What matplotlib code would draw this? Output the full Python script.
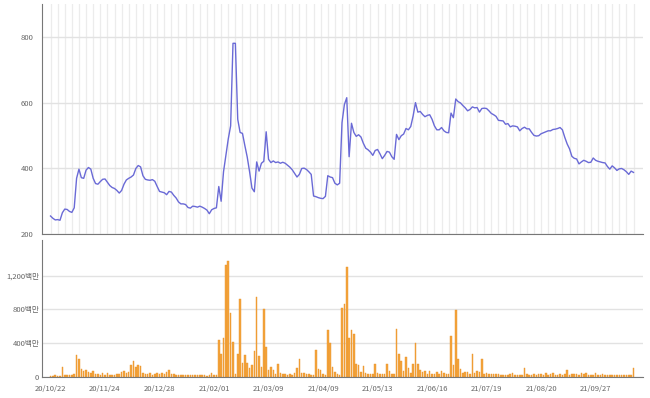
import numpy as np
import matplotlib
matplotlib.use('Agg')
import matplotlib.pyplot as plt

plt.rcParams['font.family'] = ['Noto Sans CJK KR', 'DejaVu Sans']

# 종가 (일별)
price = [255, 248, 243, 244, 242, 265, 276, 275, 269, 266,
         280, 370, 398, 372, 370, 395, 403, 398, 370, 354,
         352, 360, 367, 368, 358, 348, 342, 339, 333, 325,
         333, 352, 365, 370, 374, 380, 400, 409, 405, 378,
         367, 365, 364, 366, 361, 345, 330, 328, 326, 320,
         330, 328, 318, 310, 298, 292, 292, 290, 281, 279,
         285, 284, 282, 285, 282, 278, 273, 262, 274, 278,
         280, 345, 300, 390, 440, 490, 530, 782, 782, 550,
         510, 507, 470, 435, 390, 340, 329, 420, 392, 416,
         422, 512, 428, 418, 423, 418, 420, 416, 419, 416,
         410, 404, 396, 385, 374, 382, 400, 401, 397, 390,
         382, 316, 314, 311, 309, 308, 315, 378, 374, 372,
         355, 350, 355, 540, 595, 616, 436, 538, 510, 498,
         503, 496, 477, 462, 457, 450, 440, 455, 458, 445,
         430, 440, 452, 450, 436, 428, 504, 488, 500, 505,
         522, 518, 528, 560, 601, 572, 574, 565, 558, 562,
         564, 550, 530, 518, 518, 525, 515, 510, 509, 569,
         555, 612, 604, 600, 592, 585, 576, 580, 588, 585,
         586, 572, 583, 584, 583, 576, 568, 564, 559, 547,
         546, 545, 535, 537, 527, 530, 529, 527, 515, 522,
         526, 521, 521, 510, 501, 499, 500, 506, 509, 512,
         515, 515, 519, 520, 522, 525, 518, 495, 475, 460,
         437, 431, 429, 414, 420, 425, 422, 418, 419, 432,
         425, 422, 420, 418, 417, 406, 398, 408, 402, 394,
         399, 400, 396, 390, 382, 392, 388]

# 거래량 (백만)
vol = [15, 15, 20, 15, 12, 119, 25, 18, 20, 22,
       40, 258, 208, 100, 75, 87, 60, 53, 67, 36,
       40, 20, 48, 20, 53, 25, 20, 22, 30, 35,
       60, 71, 50, 60, 147, 195, 120, 147, 125, 53,
       40, 38, 50, 25, 30, 45, 30, 48, 40, 55,
       80, 30, 35, 25, 20, 22, 20, 25, 20, 18,
       22, 20, 18, 25, 20, 18, 15, 20, 50, 22,
       20, 444, 275, 465, 1330, 1377, 760, 415, 40, 270,
       930, 168, 257, 166, 109, 139, 309, 950, 245, 122,
       800, 356, 87, 115, 87, 35, 158, 45, 40, 30,
       22, 38, 25, 48, 107, 218, 50, 48, 30, 30,
       28, 20, 316, 100, 87, 30, 20, 562, 400, 115,
       60, 30, 20, 812, 865, 1300, 467, 562, 507, 155,
       148, 60, 125, 45, 35, 30, 35, 158, 50, 30,
       30, 32, 151, 72, 30, 30, 564, 278, 185, 72,
       235, 105, 45, 150, 406, 158, 87, 55, 71, 40,
       75, 40, 38, 55, 40, 75, 42, 40, 40, 483,
       139, 792, 218, 100, 48, 55, 55, 40, 268, 48,
       71, 55, 208, 40, 45, 40, 40, 35, 35, 30,
       25, 20, 20, 25, 30, 48, 20, 22, 28, 20,
       109, 30, 25, 28, 35, 20, 40, 30, 22, 45,
       20, 30, 48, 25, 20, 30, 22, 35, 80, 25,
       40, 35, 30, 28, 45, 35, 50, 20, 25, 22,
       48, 20, 18, 30, 22, 25, 20, 28, 22, 25,
       20, 22, 18, 20, 25, 22, 107]

date_labels = ['20/10/22', '20/11/24', '20/12/28', '21/02/01', '21/03/09', '21/04/09',
               '21/05/13', '21/06/16', '21/07/19', '21/08/20', '21/09/27']
vol_ticks = [0, 400, 800, 1200]
vol_labels = ['0', '400백만', '800백만', '1,200백만']

xp = np.arange(len(price))
xv = np.arange(len(vol))
xlim = (-3.6, 250)

fig = plt.figure(figsize=(6.5, 3.98), dpi=100)
ax1 = fig.add_axes([0.0646, 0.412, 0.9246, 0.578])
ax2 = fig.add_axes([0.0646, 0.0528, 0.9246, 0.344])

# 주가
ax1.plot(xp, price, color='#6a6ad6', lw=1.0)
ax1.set_xlim(xlim)
ax1.set_ylim(200, 902)
ax1.set_yticks([200, 400, 600, 800])
ax1.set_xticks(np.arange(0, len(price), 3))
ax1.set_xticklabels([])
ax1.grid(axis='x', color='#ececec', lw=0.9)
ax1.grid(axis='y', color='#e2e2e2', lw=1.0)
ax1.set_axisbelow(True)
ax1.tick_params(length=0, labelsize=5.5, labelcolor='#666666', pad=6)
for s in ['top', 'right']:
    ax1.spines[s].set_visible(False)
ax1.spines['left'].set_color('#777777')
ax1.spines['bottom'].set_color('#777777')

# 거래량
ax2.bar(xv, vol, width=0.65, color='#f4a43c', edgecolor='#e8922a', lw=0.3)
ax2.set_xlim(xlim)
ax2.set_ylim(0, 1623)
ax2.set_yticks(vol_ticks)
ax2.set_yticklabels(vol_labels)
ax2.set_xticks(np.arange(0, 23 * len(date_labels), 23))
ax2.set_xticklabels(date_labels)
ax2.grid(axis='y', color='#e2e2e2', lw=1.0)
ax2.set_axisbelow(True)
ax2.tick_params(length=0, labelsize=5.5, labelcolor='#666666')
ax2.tick_params(axis='y', pad=2)
ax2.tick_params(axis='x', pad=6)
for s in ['top', 'right']:
    ax2.spines[s].set_visible(False)
ax2.spines['left'].set_color('#777777')
ax2.spines['bottom'].set_color('#777777')

fig.savefig('out.png', dpi=100)
